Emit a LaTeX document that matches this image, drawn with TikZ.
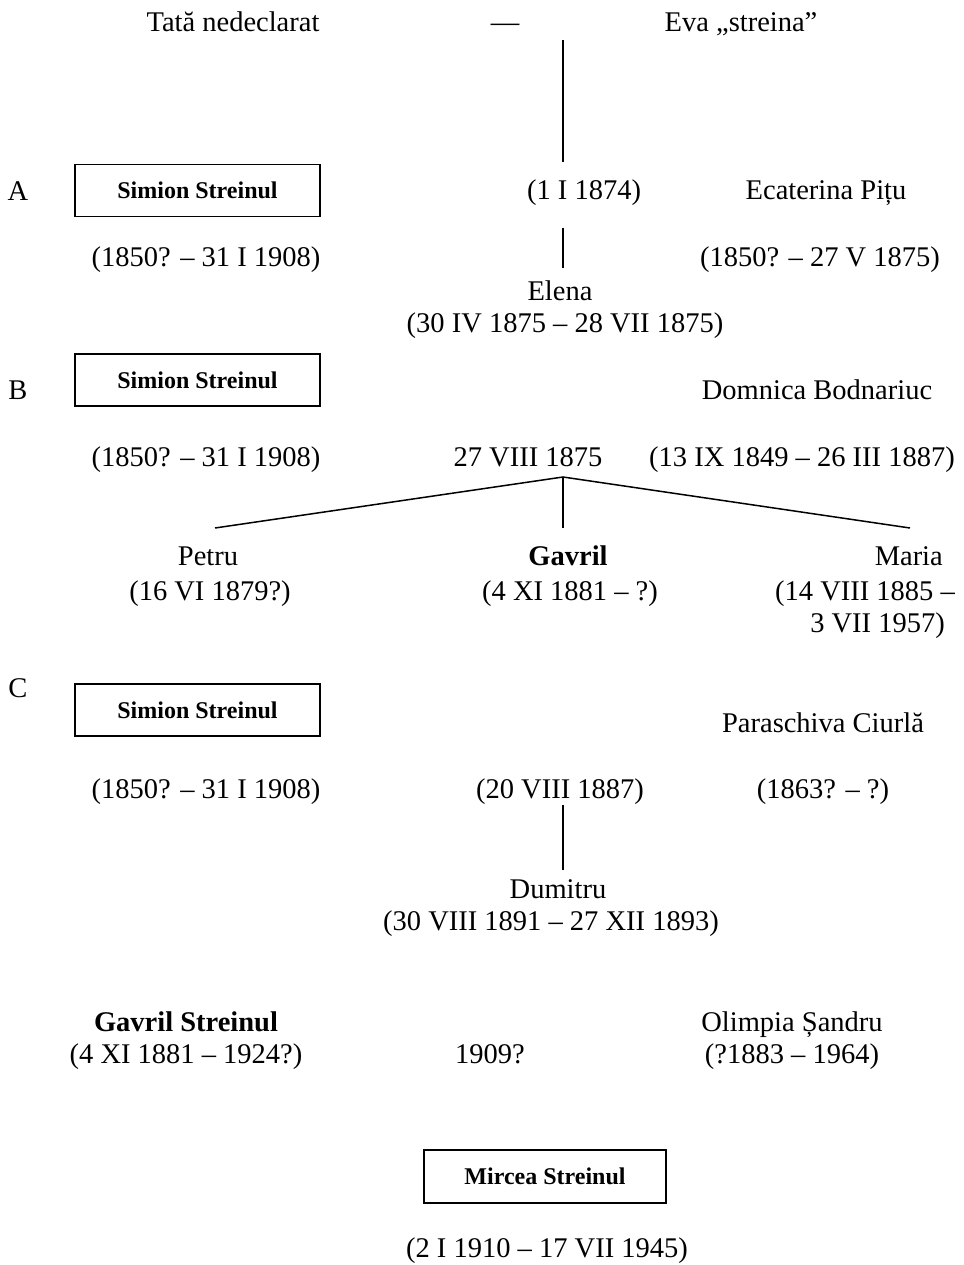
\documentclass[tikz,border=0pt]{standalone}
\usepackage{fontspec}
\setmainfont{Liberation Serif}
\begin{document}
\begin{tikzpicture}[x=1pt,y=-1pt,
  txt/.style={font=\fontsize{28.5}{32}\selectfont, inner sep=0pt, anchor=base},
  boldtxt/.style={font=\fontsize{28.5}{32}\selectfont\bfseries, inner sep=0pt, anchor=base},
  person/.style={draw, line width=1.6pt, minimum width=245pt, minimum height=52pt,
    font=\fontsize{24}{28}\selectfont\bfseries, inner sep=0pt},
  link/.style={line width=1.5pt}]
\useasboundingbox (0,0) rectangle (963,1265);

% top generation
\node[txt] (tata) at (233,32) {Tată nedeclarat};
\node[txt] (dash) at (505,32) {—};
\node[txt] (eva) at (741,32) {Eva „streina”};
\coordinate (c0) at (563,40);
\coordinate (c1) at (563,162);

% A
\node[txt] (A) at (18,201) {A};
\node[person] (simA) at (197.5,190.5) {Simion Streinul};
\node[txt] (mA) at (584,200) {(1 I 1874)};
\node[txt] (ecat) at (826,200) {Ecaterina Pițu};
\node[txt] (simAd) at (206,266) {(1850? – 31 I 1908)};
\node[txt] (ecatd) at (820,266) {(1850? – 27 V 1875)};
\coordinate (c2) at (563,228);
\coordinate (c3) at (563,268);
\node[txt] (elena) at (560,300) {Elena};
\node[txt] (elenad) at (565,332) {(30 IV 1875 – 28 VII 1875)};
\draw[link] (c0) -- (c1);
\draw[link] (c2) -- (c3);

% B
\node[txt] (B) at (18,399) {B};
\node[person] (simB) at (197.5,380) {Simion Streinul};
\node[txt] (domn) at (817,399) {Domnica Bodnariuc};
\node[txt] (simBd) at (206,466) {(1850? – 31 I 1908)};
\node[txt] (mB) at (528,466) {27 VIII 1875};
\node[txt] (domnd) at (802,466) {(13 IX 1849 – 26 III 1887)};
\coordinate (apex) at (563,477);
\coordinate (lL) at (215,528);
\coordinate (lM) at (563,528);
\coordinate (lR) at (910,528);
\draw[link] (lL) -- (apex) -- (lR);
\draw[link] (apex) -- (lM);
\node[txt] (petru) at (208,565) {Petru};
\node[txt] (petrud) at (210,600) {(16 VI 1879?)};
\node[boldtxt] (gavril) at (568,565) {Gavril};
\node[txt] (gavrild) at (570,600) {(4 XI 1881 – ?)};
\node[txt, anchor=base east] (maria) at (943,565) {Maria};
\node[txt, anchor=base east] (mariad1) at (955,600) {(14 VIII 1885 –};
\node[txt, anchor=base east] (mariad2) at (945,632) {3 VII 1957)};

% C
\node[txt] (C) at (18,697) {C};
\node[person] (simC) at (197.5,710) {Simion Streinul};
\node[txt] (para) at (823,732) {Paraschiva Ciurlă};
\node[txt] (simCd) at (206,798) {(1850? – 31 I 1908)};
\node[txt] (mC) at (560,798) {(20 VIII 1887)};
\node[txt] (parad) at (823,798) {(1863? – ?)};
\coordinate (c4) at (563,805);
\coordinate (c5) at (563,870);
\draw[link] (c4) -- (c5);
\node[txt] (dum) at (558,898) {Dumitru};
\node[txt] (dumd) at (551,930) {(30 VIII 1891 – 27 XII 1893)};

% D
\node[boldtxt] (gav) at (186,1031) {Gavril Streinul};
\node[txt] (gavd) at (186,1063) {(4 XI 1881 – 1924?)};
\node[txt] (mD) at (490,1063) {1909?};
\node[txt] (olim) at (792,1031) {Olimpia Șandru};
\node[txt] (olimd) at (792,1063) {(?1883 – 1964)};
\node[person, minimum width=242pt, minimum height=53pt] (mir) at (545,1176.5) {Mircea Streinul};
\node[txt] (mird) at (547,1257) {(2 I 1910 – 17 VII 1945)};
\end{tikzpicture}
\end{document}
